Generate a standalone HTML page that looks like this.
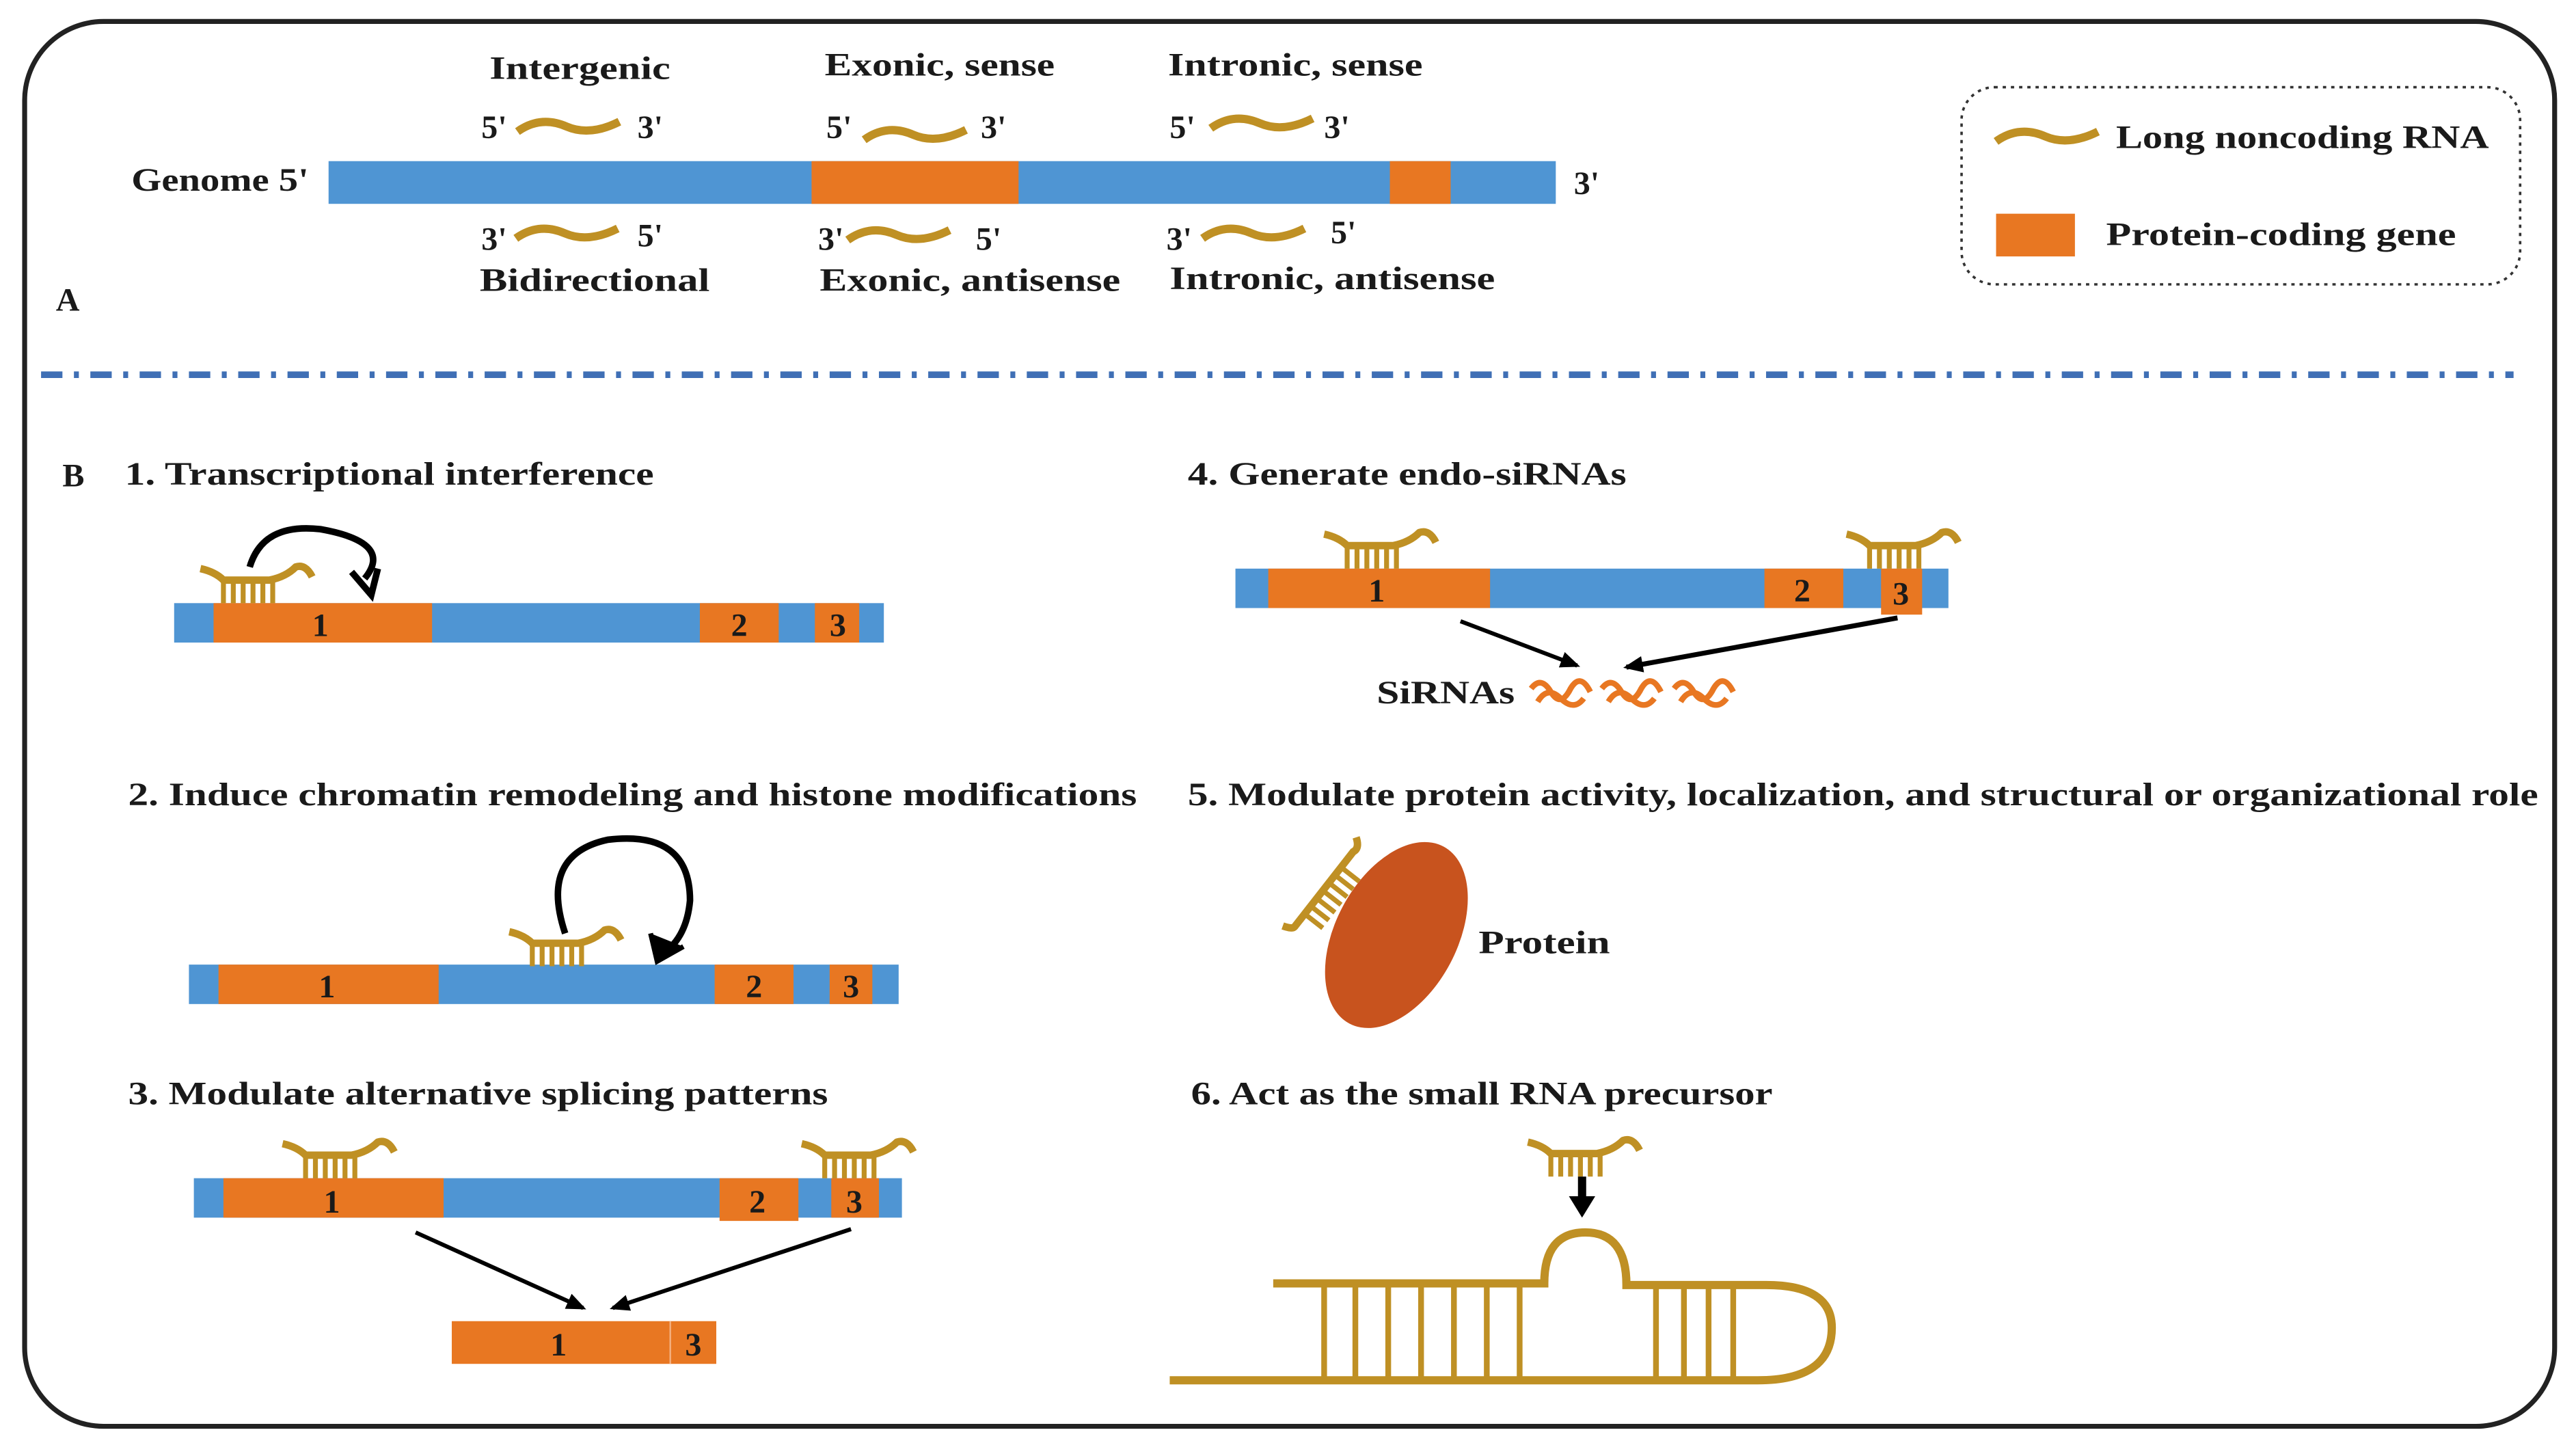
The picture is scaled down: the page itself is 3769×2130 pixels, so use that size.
<!DOCTYPE html>
<html><head><meta charset="utf-8"><style>
html,body{margin:0;padding:0;background:#fff;}
svg{display:block;}
text{font-family:"Liberation Serif",serif;font-weight:bold;fill:#1a1a1a;}
</style></head><body>
<svg width="3769" height="2130" viewBox="0 0 1568 886" xmlns="http://www.w3.org/2000/svg">
<defs>
<g id="sl">
<path d="M0,1 Q9,3 14,8 L42,8 Q52,6 58,0 Q64,-2 68,6" fill="none" stroke="#BF9024" stroke-width="4.5" stroke-linejoin="round"/>
<g stroke="#BF9024" stroke-width="3">
<line x1="14" y1="8" x2="14" y2="22"/><line x1="20" y1="8" x2="20" y2="22"/><line x1="26" y1="8" x2="26" y2="22"/><line x1="32" y1="8" x2="32" y2="22"/><line x1="38" y1="8" x2="38" y2="22"/><line x1="44" y1="7" x2="44" y2="22"/>
</g>
</g>
<path id="wv" d="M0,6 Q14,-4 30,3 Q44,9 62,0" fill="none" stroke="#BF9024" stroke-width="5"/>
<path id="sq" d="M0,6 Q6,-2 12,8 Q18,18 24,6 Q30,-4 36,8 M4,14 Q10,4 18,12 Q26,20 32,12" fill="none" stroke="#E87722" stroke-width="3.5"/>
<marker id="ah" markerWidth="12" markerHeight="10" refX="10" refY="5" orient="auto" markerUnits="userSpaceOnUse"><path d="M0,0 L12,5 L0,10 z" fill="#000"/></marker>
</defs>
<rect x="15" y="13" width="1540" height="855" rx="48" fill="#fff" stroke="#222" stroke-width="3"/>

<!-- A -->
<text x="298" y="48" font-size="20" textLength="110" lengthAdjust="spacingAndGlyphs">Intergenic</text>
<text x="502" y="46" font-size="20" textLength="140" lengthAdjust="spacingAndGlyphs">Exonic, sense</text>
<text x="711" y="46" font-size="20" textLength="155" lengthAdjust="spacingAndGlyphs">Intronic, sense</text>
<text x="293" y="84" font-size="20">5'</text><use href="#wv" x="315" y="74"/><text x="388" y="84" font-size="20">3'</text>
<text x="503" y="84" font-size="20">5'</text><use href="#wv" x="526" y="79"/><text x="597" y="84" font-size="20">3'</text>
<text x="712" y="84" font-size="20">5'</text><use href="#wv" x="737" y="72"/><text x="806" y="84" font-size="20">3'</text>
<text x="80" y="116" font-size="20" textLength="108" lengthAdjust="spacingAndGlyphs">Genome 5'</text>
<rect x="200" y="98" width="747" height="26" fill="#4F95D3"/>
<rect x="494" y="98" width="126" height="26" fill="#E87722"/>
<rect x="846" y="98" width="37" height="26" fill="#E87722"/>
<text x="958" y="118" font-size="20">3'</text>
<text x="293" y="152" font-size="20">3'</text><use href="#wv" x="314" y="139"/><text x="388" y="150" font-size="20">5'</text>
<text x="498" y="152" font-size="20">3'</text><use href="#wv" x="516" y="140"/><text x="594" y="152" font-size="20">5'</text>
<text x="710" y="152" font-size="20">3'</text><use href="#wv" x="732" y="139"/><text x="810" y="148" font-size="20">5'</text>
<text x="292" y="177" font-size="20" textLength="140" lengthAdjust="spacingAndGlyphs">Bidirectional</text>
<text x="499" y="177" font-size="20" textLength="183" lengthAdjust="spacingAndGlyphs">Exonic, antisense</text>
<text x="712" y="176" font-size="20" textLength="198" lengthAdjust="spacingAndGlyphs">Intronic, antisense</text>
<text x="34" y="189" font-size="20">A</text>

<rect x="1194" y="53" width="340" height="120" rx="20" fill="none" stroke="#333" stroke-width="1.5" stroke-dasharray="2,3"/>
<use href="#wv" x="1215" y="80"/>
<text x="1288" y="90" font-size="20" textLength="227" lengthAdjust="spacingAndGlyphs">Long noncoding RNA</text>
<rect x="1215" y="130" width="48" height="26" fill="#E87722"/>
<text x="1282" y="149" font-size="20" textLength="213" lengthAdjust="spacingAndGlyphs">Protein-coding gene</text>

<line x1="25" y1="228" x2="1530" y2="228" stroke="#3F6FB5" stroke-width="4" stroke-dasharray="13,7,3,7"/>

<!-- B1 -->
<text x="38" y="296" font-size="20">B</text>
<text x="76" y="295" font-size="20" textLength="322" lengthAdjust="spacingAndGlyphs">1. Transcriptional interference</text>
<rect x="106" y="367" width="432" height="24" fill="#4F95D3"/>
<rect x="130" y="367" width="133" height="24" fill="#E87722"/>
<rect x="426" y="367" width="48" height="24" fill="#E87722"/>
<rect x="496" y="367" width="27" height="24" fill="#E87722"/>
<text x="195" y="387" font-size="20" text-anchor="middle">1</text>
<text x="450" y="387" font-size="20" text-anchor="middle">2</text>
<text x="510" y="387" font-size="20" text-anchor="middle">3</text>
<use href="#sl" x="122" y="345"/>
<path d="M152,345 Q160,318 195,322 Q240,330 222,352" fill="none" stroke="#000" stroke-width="4"/>
<path d="M214,348 L226,362 L230,346" fill="none" stroke="#000" stroke-width="4"/>

<!-- B2 -->
<text x="78" y="490" font-size="20" textLength="614" lengthAdjust="spacingAndGlyphs">2. Induce chromatin remodeling and histone modifications</text>
<rect x="115" y="587" width="432" height="24" fill="#4F95D3"/>
<rect x="133" y="587" width="134" height="24" fill="#E87722"/>
<rect x="435" y="587" width="48" height="24" fill="#E87722"/>
<rect x="505" y="587" width="26" height="24" fill="#E87722"/>
<text x="199" y="607" font-size="20" text-anchor="middle">1</text>
<text x="459" y="607" font-size="20" text-anchor="middle">2</text>
<text x="518" y="607" font-size="20" text-anchor="middle">3</text>
<use href="#sl" x="310" y="566"/>
<path d="M344,568 Q328,520 370,511 Q420,505 420,548 Q418,570 404,580" fill="none" stroke="#000" stroke-width="4"/>
<path d="M396,568 L400,585 L416,576" fill="#000" stroke="#000" stroke-width="3"/>

<!-- B3 -->
<text x="78" y="672" font-size="20" textLength="426" lengthAdjust="spacingAndGlyphs">3. Modulate alternative splicing patterns</text>
<rect x="118" y="717" width="431" height="24" fill="#4F95D3"/>
<rect x="136" y="717" width="134" height="24" fill="#E87722"/>
<rect x="438" y="717" width="48" height="26" fill="#E87722"/>
<rect x="506" y="717" width="29" height="24" fill="#E87722"/>
<text x="202" y="738" font-size="20" text-anchor="middle">1</text>
<text x="461" y="738" font-size="20" text-anchor="middle">2</text>
<text x="520" y="738" font-size="20" text-anchor="middle">3</text>
<use href="#sl" x="172" y="695"/>
<use href="#sl" x="488" y="695"/>
<line x1="253" y1="750" x2="355" y2="796" stroke="#000" stroke-width="2.5" marker-end="url(#ah)"/>
<line x1="518" y1="748" x2="373" y2="796" stroke="#000" stroke-width="2.5" marker-end="url(#ah)"/>
<rect x="275" y="804" width="161" height="26" fill="#E87722"/>
<line x1="408" y1="804" x2="408" y2="830" stroke="#f4b080" stroke-width="1"/>
<text x="340" y="825" font-size="20" text-anchor="middle">1</text>
<text x="422" y="825" font-size="20" text-anchor="middle">3</text>

<!-- B4 -->
<text x="723" y="295" font-size="20" textLength="267" lengthAdjust="spacingAndGlyphs">4. Generate endo-siRNAs</text>
<rect x="752" y="346" width="434" height="24" fill="#4F95D3"/>
<rect x="772" y="346" width="135" height="24" fill="#E87722"/>
<rect x="1074" y="346" width="48" height="24" fill="#E87722"/>
<rect x="1145" y="346" width="25" height="28" fill="#E87722"/>
<text x="838" y="366" font-size="20" text-anchor="middle">1</text>
<text x="1097" y="366" font-size="20" text-anchor="middle">2</text>
<text x="1157" y="368" font-size="20" text-anchor="middle">3</text>
<use href="#sl" x="806" y="324"/>
<use href="#sl" x="1124" y="324"/>
<line x1="889" y1="378" x2="960" y2="405" stroke="#000" stroke-width="2.5" marker-end="url(#ah)"/>
<line x1="1155" y1="376" x2="990" y2="406" stroke="#000" stroke-width="3" marker-end="url(#ah)"/>
<text x="838" y="428" font-size="20" textLength="84" lengthAdjust="spacingAndGlyphs">SiRNAs</text>
<use href="#sq" x="932" y="413"/>
<use href="#sq" x="975" y="413"/>
<use href="#sq" x="1019" y="413"/>

<!-- B5 -->
<text x="723" y="490" font-size="20" textLength="822" lengthAdjust="spacingAndGlyphs">5. Modulate protein activity, localization, and structural or organizational role</text>
<ellipse cx="850" cy="569" rx="37" ry="61" transform="rotate(28 850 569)" fill="#C8531E"/>
<g transform="translate(788,564) rotate(-52)">
<path d="M-4,-6 Q-2,0 0,0 L58,0 Q62,2 66,-4" fill="none" stroke="#BF9024" stroke-width="4.5"/>
<g stroke="#BF9024" stroke-width="3"><line x1="10" y1="0" x2="10" y2="14"/><line x1="16" y1="0" x2="16" y2="14"/><line x1="22" y1="0" x2="22" y2="14"/><line x1="28" y1="0" x2="28" y2="14"/><line x1="34" y1="0" x2="34" y2="14"/><line x1="40" y1="0" x2="40" y2="14"/><line x1="46" y1="0" x2="46" y2="14"/></g>
</g>
<text x="900" y="580" font-size="20" textLength="80" lengthAdjust="spacingAndGlyphs">Protein</text>

<!-- B6 -->
<text x="725" y="672" font-size="20" textLength="354" lengthAdjust="spacingAndGlyphs">6. Act as the small RNA precursor</text>
<use href="#sl" x="930" y="694"/>
<line x1="963" y1="716" x2="963" y2="730" stroke="#000" stroke-width="5"/>
<path d="M955,728 L971,728 L963,741 z" fill="#000"/>
<path d="M712,840 L1070,840 Q1115,840 1115,808 Q1115,782 1075,782 L990,782 Q990,750 965,750 Q940,750 940,781 L775,781" fill="none" stroke="#BF9024" stroke-width="5"/>
<g stroke="#BF9024" stroke-width="3.5">
<line x1="806" y1="782" x2="806" y2="838"/><line x1="825" y1="782" x2="825" y2="838"/><line x1="845" y1="782" x2="845" y2="838"/><line x1="865" y1="782" x2="865" y2="838"/><line x1="885" y1="782" x2="885" y2="838"/><line x1="905" y1="782" x2="905" y2="838"/><line x1="925" y1="782" x2="925" y2="838"/>
<line x1="1008" y1="783" x2="1008" y2="838"/><line x1="1025" y1="783" x2="1025" y2="838"/><line x1="1040" y1="783" x2="1040" y2="838"/><line x1="1055" y1="783" x2="1055" y2="838"/>
</g>
</svg>
</body></html>
